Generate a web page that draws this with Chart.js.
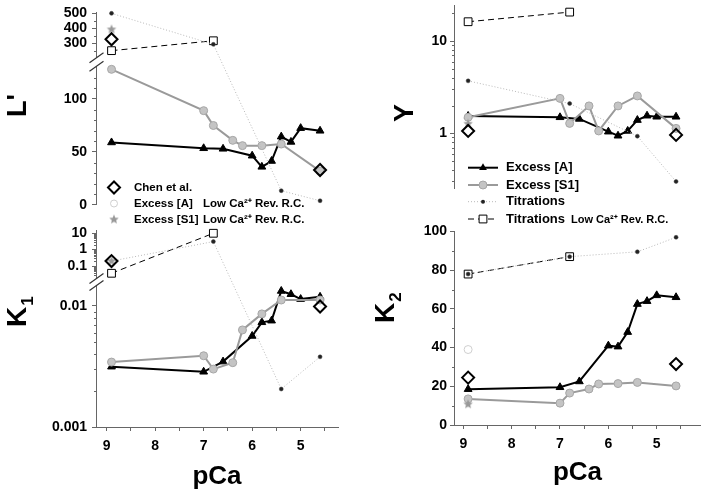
<!DOCTYPE html>
<html><head><meta charset="utf-8"><title>pCa dependence</title>
<script src="https://cdn.jsdelivr.net/npm/chart.js@4.4.1/dist/chart.umd.min.js"></script>
<style>
html,body{margin:0;padding:0;background:#fff;}
#wrap{position:relative;width:701px;height:495px;overflow:hidden;background:#fff;}
#wrap canvas{position:absolute;left:0;top:0;}
</style></head><body>
<div id="wrap">
<canvas id="cTL" width="701" height="495"></canvas>
<canvas id="cBL" width="701" height="495"></canvas>
<canvas id="cTR" width="701" height="495"></canvas>
<canvas id="cBR" width="701" height="495"></canvas>
</div>
<script>
// ---------------- data ----------------
const xTicks = [9, 8.5, 8, 7.5, 7, 6.5, 6, 5.5, 5, 4.5];
const pCaA = [8.9, 7.0, 6.6, 6.0, 5.8, 5.6, 5.4, 5.2, 5.0, 4.6];
const pCaS1 = [8.9, 7.0, 6.8, 6.4, 6.2, 5.8, 5.4, 4.6];
const pCaTit = [8.9, 6.8, 5.4, 4.6];
const pCaTitLow = [8.9, 6.8];
const pCaChen = [8.9, 4.6];
const pCaLow = [8.9];

const LA = [59, 53.5, 53, 46.5, 36, 41.5, 64.5, 59.5, 72.5, 70];
const LS1 = [128, 89, 75, 61, 56, 56, 57.5, 32];
const LTit = [500, 293, 13.5, 4];
const LTitLow = [251, 317];
const LChen = [327, 33];
const LS1Low = [393];

const K1A = [0.00315, 0.00286, 0.00347, 0.00565, 0.00733, 0.00756, 0.0133, 0.0125, 0.0114, 0.0119];
const K1S1 = [0.00344, 0.00388, 0.00301, 0.0034, 0.00634, 0.0086, 0.0112, 0.0112];
const K1Tit = [0.2, 3.1, 0.00206, 0.0038];
const K1TitLow = [0.036, 10];
const K1Chen = [0.2, 0.0099];
const K1ALow = [0.2];
const K1S1Low = [0.2];

const YA = [1.54, 1.49, 1.43, 1.04, 0.94, 1.06, 1.39, 1.55, 1.51, 1.51];
const YS1 = [1.49, 2.39, 1.28, 1.98, 1.06, 1.98, 2.54, 1.13];
const YTit = [3.7, 2.1, 0.93, 0.30];
const YTitLow = [16.2, 20.6];
const YChen = [1.06, 0.96];
const YS1Low = [1.27];

const K2A = [18.5, 19.5, 22.5, 41, 40.5, 48, 62.5, 64, 67, 66];
const K2S1 = [13.5, 11.3, 16.5, 18.6, 21.2, 21.4, 22, 20.2];
const K2Tit = [78, 87, 89.5, 97];
const K2TitLow = [78, 87];
const K2Chen = [24.5, 31.5];
const K2ALow = [39];
const K2S1Low = [10.7];

const LTicks = [0, 50, 100, 300, 400, 500];
const LMinor = [10, 20, 30, 40, 60, 70, 80, 90, 110, 120, 250, 350, 450];
const K1Ticks = [0.001, 0.01, 0.1, 1, 10];
const K1Minor = [0.002,0.003,0.004,0.005,0.006,0.007,0.008,0.009,0.03,0.04,0.05,0.06,0.07,0.08,0.09,0.2,0.3,0.4,0.5,0.6,0.7,0.8,0.9,2,3,4,5,6,7,8,9];
const YTicks = [1, 10];
const YMinor = [0.3,0.4,0.5,0.6,0.7,0.8,0.9,2,3,4,5,6,7,8,9,20];
const K2Ticks = [0, 20, 40, 60, 80, 100];
const K2Minor = [10, 30, 50, 70, 90];

// ---------------- setup ----------------
const FONT = "'Liberation Sans', Arial, Helvetica, sans-serif";
const AXIS = '#666';
Chart.defaults.font.family = FONT;
Chart.defaults.font.weight = 'bold';
Chart.defaults.font.size = 14;
Chart.defaults.color = '#000';

// broken-axis configuration (segments in value or log10 space)
const BROKEN = {
  cTL: {log: false, area: [12.6, 205], segs: [{lo: 0, hi: 130, yLo: 205, yHi: 67.2}, {lo: 230, hi: 505, yLo: 53.8, yHi: 12.6}]},
  cBL: {log: true, area: [230, 427], segs: [{lo: -3, hi: -1.83, yLo: 427, yHi: 285.4}, {lo: -1.58, hi: 1.2, yLo: 275.5, yHi: 230}]}
};

class BrokenScale extends Chart.LinearScale {
  static id = 'broken';
  _cfg() { return BROKEN[this.chart.canvas.id]; }
  _dec(v) {
    const c = this._cfg();
    const t = c.log ? Math.log10(v) : v;
    const T = c.area[0], B = c.area[1];
    let seg = c.segs[0];
    for (const g of c.segs) { if (t >= g.lo) seg = g; }
    const y = seg.yLo + (t - seg.lo) / (seg.hi - seg.lo) * (seg.yHi - seg.yLo);
    return (B - y) / (B - T);
  }
  getPixelForValue(v) { return this.getPixelForDecimal(this._dec(v)); }
  getValueForPixel(p) {
    const c = this._cfg();
    const d = this.getDecimalForPixel(p);
    const T = c.area[0], B = c.area[1];
    const y = B - d * (B - T);
    let seg = c.segs[0];
    for (const g of c.segs) { if (y <= g.yLo) seg = g; }
    const t = seg.lo + (y - seg.yLo) / (seg.yHi - seg.yLo) * (seg.hi - seg.lo);
    return c.log ? Math.pow(10, t) : t;
  }
  buildTicks() { return (this.chart.canvas.id === 'cTL' ? LTicks : K1Ticks).map(v => ({value: v})); }
}
Chart.register(BrokenScale);

function makeStar(r, color) {
  const s = Math.ceil(r * 2) + 2;
  const c = document.createElement('canvas');
  c.width = s; c.height = s;
  const g = c.getContext('2d');
  g.fillStyle = color; g.beginPath();
  for (let i = 0; i < 10; i++) {
    const rr = i % 2 ? r * 0.45 : r;
    const a = -Math.PI / 2 + i * Math.PI / 5;
    g.lineTo(s / 2 + rr * Math.cos(a), s / 2 + rr * Math.sin(a));
  }
  g.closePath(); g.fill();
  return c;
}
const STAR = makeStar(5, '#999');

const S_CHEN = {showLine: false, pointStyle: 'rectRot', pointRadius: 6, pointBorderWidth: 2, pointBorderColor: '#000', pointBackgroundColor: 'rgba(0,0,0,0)', borderColor: '#000'};
const S_A = {showLine: true, borderColor: '#000', borderWidth: 2, pointStyle: 'triangle', pointRadius: 4.5, pointBackgroundColor: '#000', pointBorderColor: '#000', pointBorderWidth: 1};
const S_S1 = {showLine: true, borderColor: '#9a9a9a', borderWidth: 2, pointStyle: 'circle', pointRadius: 4, pointBackgroundColor: '#c4c4c4', pointBorderColor: '#a6a6a6', pointBorderWidth: 1};
const S_TIT = {showLine: true, borderColor: '#b8b8b8', borderWidth: 1, borderDash: [1, 2], pointStyle: 'circle', pointRadius: 2, pointBackgroundColor: '#222', pointBorderColor: '#444', pointBorderWidth: 0.5};
const S_TITLOW = {showLine: true, borderColor: '#000', borderWidth: 1, borderDash: [6, 4], pointStyle: 'rect', pointRadius: 5.5, pointBackgroundColor: '#fff', pointBorderColor: '#000', pointBorderWidth: 1};
const S_ALOW = {showLine: false, pointStyle: 'circle', pointRadius: 4, pointBackgroundColor: '#fff', pointBorderColor: '#cfcfcf', pointBorderWidth: 1};
const S_S1LOW = {showLine: false, pointStyle: STAR, pointRadius: 5};

function pts(xs, ys) { return xs.map((x, i) => ({x: x, y: ys[i]})); }
function sets(chen, a, s1, tit, titLow, aLow, s1Low) {
  const out = [];
  const base = {clip: false, tension: 0};
  out.push(Object.assign({}, base, S_CHEN, {label: 'Chen et al.', data: pts(pCaChen, chen)}));
  if (s1Low) out.push(Object.assign({}, base, S_S1LOW, {label: 'Excess [S1] Low Ca2+ Rev. R.C.', data: pts(pCaLow, s1Low)}));
  if (aLow) out.push(Object.assign({}, base, S_ALOW, {label: 'Excess [A] Low Ca2+ Rev. R.C.', data: pts(pCaLow, aLow)}));
  out.push(Object.assign({}, base, S_TIT, {label: 'Titrations', data: pts(pCaTit, tit)}));
  out.push(Object.assign({}, base, S_S1, {label: 'Excess [S1]', data: pts(pCaS1, s1)}));
  out.push(Object.assign({}, base, S_A, {label: 'Excess [A]', data: pts(pCaA, a)}));
  out.push(Object.assign({}, base, S_TITLOW, {label: 'Titrations Low Ca2+ Rev. R.C.', data: pts(pCaTitLow, titLow)}));
  return out;
}

function xScale(min, max, show, h) {
  return {
    type: 'linear', min: min, max: max, reverse: true, display: show,
    border: {display: true, color: AXIS, width: 1},
    grid: {display: true, drawOnChartArea: false, drawTicks: true, tickLength: 4, color: AXIS},
    ticks: {autoSkip: false, maxRotation: 0, padding: 7, font: {size: 14, weight: 'bold'}, color: '#000',
            callback: v => Number.isInteger(v) ? String(v) : ''},
    afterBuildTicks: s => { s.ticks = xTicks.map(v => ({value: v})); },
    afterFit: s => { s.height = h; s.paddingLeft = 0; s.paddingRight = 0; },
    title: {display: show, text: 'pCa', font: {size: 26, weight: 'bold'}, color: '#000', padding: {top: 0, bottom: 0}}
  };
}
function yScale(extra, ticksArr, pad) {
  return Object.assign({
    position: 'left',
    border: {display: true, color: AXIS, width: 1},
    grid: {display: true, drawOnChartArea: false, drawTicks: true, tickLength: 4, color: AXIS},
    ticks: {autoSkip: false, padding: pad, font: {size: 14, weight: 'bold'}, color: '#000', callback: v => String(v)},
    afterBuildTicks: s => { if (ticksArr) s.ticks = ticksArr.map(v => ({value: v})); },
    afterFit: s => { s.width = 60; s.paddingTop = 0; s.paddingBottom = 0; }
  }, extra);
}

// ---------------- decoration helpers ----------------
function minor(chart, vals) {
  const s = chart.scales.y, ctx = chart.ctx, x = Math.round(s.right) + 0.5;
  ctx.save(); ctx.strokeStyle = AXIS; ctx.lineWidth = 1; ctx.beginPath();
  vals.forEach(v => { const y = Math.round(s.getPixelForValue(v)) + 0.5; ctx.moveTo(x - 2.5, y); ctx.lineTo(x, y); });
  ctx.stroke(); ctx.restore();
}
function breakMarks(chart, y1, y2) {
  const s = chart.scales.y, ctx = chart.ctx, x = Math.round(s.right) + 0.5;
  ctx.save(); ctx.fillStyle = '#fff'; ctx.fillRect(x - 2, y1, 4, y2 - y1);
  ctx.strokeStyle = '#333'; ctx.lineWidth = 1.2;
  [y1, y2].forEach(y => { ctx.beginPath(); ctx.moveTo(x - 7, y + 5); ctx.lineTo(x + 7, y - 5); ctx.stroke(); });
  ctx.restore();
}
function yTitle(ctx, main, sub, bx, by, size) {
  ctx.save(); ctx.translate(bx, by); ctx.rotate(-Math.PI / 2);
  ctx.fillStyle = '#000'; ctx.textAlign = 'left'; ctx.textBaseline = 'alphabetic';
  ctx.font = 'bold ' + size + 'px ' + FONT;
  ctx.fillText(main, 0, 0);
  if (sub) {
    const w = ctx.measureText(main).width;
    ctx.font = 'bold ' + Math.round(size * 0.6) + 'px ' + FONT;
    ctx.fillText(sub, w + 1, size * 0.24);
  }
  ctx.restore();
}
function sym(ctx, type, x, y) {
  ctx.save(); ctx.setLineDash([]); ctx.beginPath();
  if (type === 'diamond') {
    const r = 6; ctx.moveTo(x - r, y); ctx.lineTo(x, y - r); ctx.lineTo(x + r, y); ctx.lineTo(x, y + r); ctx.closePath();
    ctx.lineWidth = 2; ctx.strokeStyle = '#000'; ctx.stroke();
  } else if (type === 'openCircle') {
    ctx.arc(x, y, 3.5, 0, Math.PI * 2); ctx.fillStyle = '#fff'; ctx.fill(); ctx.lineWidth = 1; ctx.strokeStyle = '#cfcfcf'; ctx.stroke();
  } else if (type === 'star') {
    ctx.drawImage(STAR, x - STAR.width / 2, y - STAR.height / 2);
  } else if (type === 'triangle') {
    const r = 4.5; ctx.moveTo(x, y - r); ctx.lineTo(x + 0.866 * r, y + 0.5 * r); ctx.lineTo(x - 0.866 * r, y + 0.5 * r); ctx.closePath();
    ctx.fillStyle = '#000'; ctx.fill();
  } else if (type === 'grayCircle') {
    ctx.arc(x, y, 4, 0, Math.PI * 2); ctx.fillStyle = '#c4c4c4'; ctx.fill(); ctx.lineWidth = 1; ctx.strokeStyle = '#a6a6a6'; ctx.stroke();
  } else if (type === 'dot') {
    ctx.arc(x, y, 2, 0, Math.PI * 2); ctx.fillStyle = '#222'; ctx.fill();
  } else if (type === 'square') {
    ctx.rect(x - 3.9, y - 3.9, 7.8, 7.8); ctx.fillStyle = '#fff'; ctx.fill(); ctx.lineWidth = 1; ctx.strokeStyle = '#000'; ctx.stroke();
  }
  ctx.restore();
}
function sampleLine(ctx, x1, x2, y, color, width, dash) {
  ctx.save(); ctx.strokeStyle = color; ctx.lineWidth = width; ctx.setLineDash(dash);
  ctx.beginPath(); ctx.moveTo(x1, y); ctx.lineTo(x2, y); ctx.stroke(); ctx.restore();
}
function txt(ctx, s, x, y, size) {
  ctx.save(); ctx.fillStyle = '#000'; ctx.font = 'bold ' + size + 'px ' + FONT;
  ctx.textAlign = 'left'; ctx.textBaseline = 'middle'; ctx.fillText(s, x, y); ctx.restore();
}

function makeChart(id, o) {
  return new Chart(document.getElementById(id), {
    type: 'scatter',
    data: {datasets: o.datasets},
    options: {
      responsive: false, animation: false, events: [],
      layout: {autoPadding: false, padding: o.padding},
      plugins: {legend: {display: false}, tooltip: {enabled: false}},
      scales: {x: o.x, y: o.y}
    },
    plugins: [{id: 'deco_' + id, afterDraw: o.deco}]
  });
}

// ---------------- panels ----------------
makeChart('cTL', {
  padding: {left: 36, top: 12.6, right: 363, bottom: 290},
  x: xScale(4.23, 9.22, false, 0),
  y: yScale({type: 'broken', min: 0, max: 505}, null, 5),
  datasets: sets(LChen, LA, LS1, LTit, LTitLow, null, LS1Low),
  deco: chart => {
    const ctx = chart.ctx, s = chart.scales.y;
    minor(chart, LMinor);
    breakMarks(chart, s.getPixelForValue(230) + 4, s.getPixelForValue(130) - 1);
    yTitle(ctx, "L'", null, 26, 117, 27);
    sym(ctx, 'diamond', 114, 187.5); txt(ctx, 'Chen et al.', 134, 187.5, 11.5);
    sym(ctx, 'openCircle', 114, 203.5); txt(ctx, 'Excess [A]', 134, 203.5, 11.5); txt(ctx, 'Low Ca\u00B2\u207A Rev. R.C.', 203, 203.5, 11.5);
    sym(ctx, 'star', 114, 219.5); txt(ctx, 'Excess [S1]', 134, 219.5, 11.5); txt(ctx, 'Low Ca\u00B2\u207A Rev. R.C.', 203, 219.5, 11.5);
  }
});

makeChart('cBL', {
  padding: {left: 36, top: 230, right: 363, bottom: 2.4},
  x: xScale(4.23, 9.22, true, 65.6),
  y: yScale({type: 'broken'}, null, 5),
  datasets: sets(K1Chen, K1A, K1S1, K1Tit, K1TitLow, K1ALow, K1S1Low),
  deco: chart => {
    const ctx = chart.ctx, s = chart.scales.y;
    minor(chart, K1Minor);
    breakMarks(chart, s.getPixelForValue(Math.pow(10, -1.58)) + 3, s.getPixelForValue(Math.pow(10, -1.83)));
    yTitle(ctx, 'K', '1', 26, 327, 28);
  }
});

makeChart('cTR', {
  padding: {left: 394, top: 5, right: 0, bottom: 307},
  x: xScale(4.084, 9.192, false, 0),
  y: yScale({type: 'logarithmic', min: 0.255, max: 24.6}, YTicks, 3),
  datasets: sets(YChen, YA, YS1, YTit, YTitLow, null, YS1Low),
  deco: chart => {
    const ctx = chart.ctx;
    minor(chart, YMinor);
    yTitle(ctx, 'Y', null, 413, 122, 27);
    sampleLine(ctx, 468, 498, 167.7, '#000', 2, []); sym(ctx, 'triangle', 483, 167.7); txt(ctx, 'Excess [A]', 506, 167.7, 13);
    sampleLine(ctx, 468, 498, 185, '#9a9a9a', 2, []); sym(ctx, 'grayCircle', 483, 185); txt(ctx, 'Excess [S1]', 506, 185, 13);
    sampleLine(ctx, 468, 498, 201.7, '#b8b8b8', 1, [1, 2]); sym(ctx, 'dot', 483, 201.7); txt(ctx, 'Titrations', 506, 201.7, 13);
    sampleLine(ctx, 468, 498, 219, '#000', 1, [6, 4]); sym(ctx, 'square', 483, 219); txt(ctx, 'Titrations', 506, 219, 13);
    txt(ctx, 'Low Ca\u00B2\u207A Rev. R.C.', 571, 219.5, 11);
  }
});

makeChart('cBR', {
  padding: {left: 394, top: 231.5, right: 0, bottom: 6.4},
  x: xScale(4.084, 9.192, true, 63.6),
  y: yScale({type: 'linear', min: 0, max: 100}, K2Ticks, 3),
  datasets: sets(K2Chen, K2A, K2S1, K2Tit, K2TitLow, K2ALow, K2S1Low),
  deco: chart => {
    minor(chart, K2Minor);
    yTitle(chart.ctx, 'K', '2', 394, 323, 28);
  }
});
</script>
</body></html>
